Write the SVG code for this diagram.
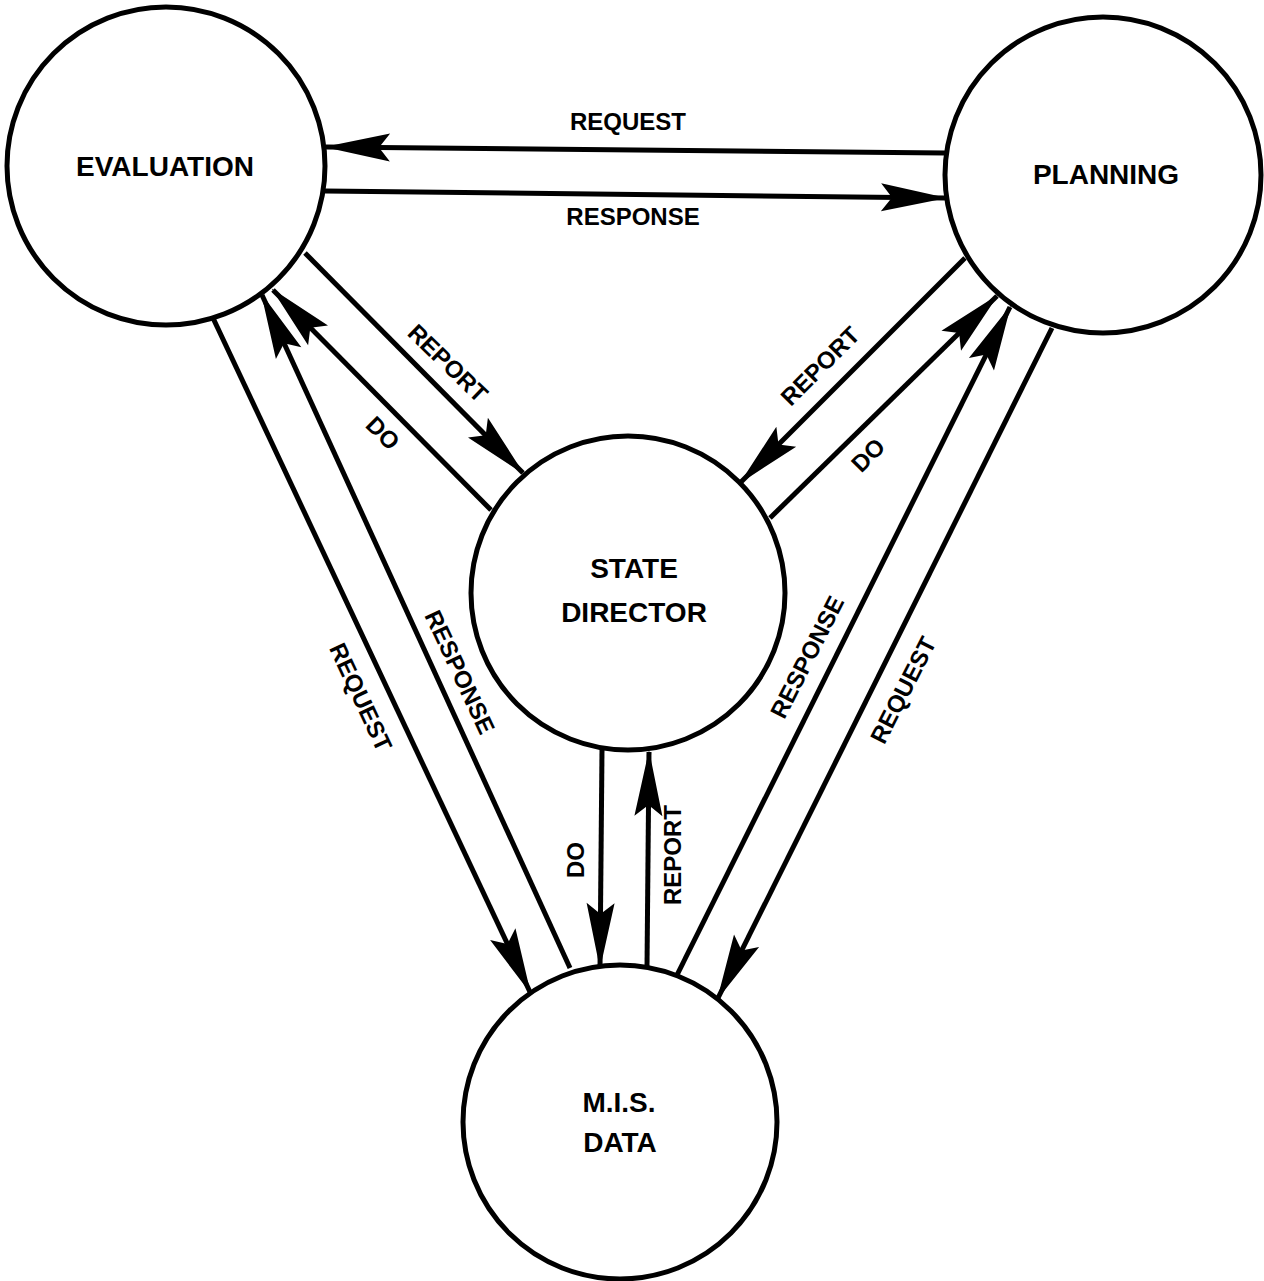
<svg xmlns="http://www.w3.org/2000/svg" width="1264" height="1281" viewBox="0 0 1264 1281">
<style>
.node{fill:#fff;stroke:#000;stroke-width:5}
.nl{font-family:"Liberation Sans",Arial,sans-serif;font-weight:bold;font-size:28px;text-anchor:middle;fill:#000}
.el{font-family:"Liberation Sans",Arial,sans-serif;font-weight:bold;font-size:24px;text-anchor:middle;fill:#000}
.c{stroke:#000;stroke-width:5;fill:none;marker-end:url(#ah)}
</style>
<defs>
<marker id="ah" markerUnits="userSpaceOnUse" viewBox="-68 -16 70 32" refX="0" refY="0" markerWidth="70" markerHeight="32" orient="auto">
<path d="M2,0 L-64,-14 L-53,0 L-64,14 Z" fill="#000"/>
</marker>
</defs>
<rect width="1264" height="1281" fill="#fff"/>
<g id="connectors">
<line class="c" x1="945" y1="153" x2="326" y2="147"/>
<line class="c" x1="325" y1="191" x2="945" y2="198"/>
<line class="c" x1="305" y1="253" x2="523" y2="473"/>
<line class="c" x1="491" y1="510" x2="273" y2="290"/>
<line class="c" x1="570" y1="968" x2="262" y2="295"/>
<line class="c" x1="213" y1="318" x2="530" y2="992"/>
<line class="c" x1="965" y1="258" x2="741" y2="482"/>
<line class="c" x1="770" y1="518" x2="997" y2="296"/>
<line class="c" x1="677" y1="975" x2="1010" y2="307"/>
<line class="c" x1="1052" y1="328" x2="718" y2="998"/>
<line class="c" x1="602" y1="750" x2="600" y2="967"/>
<line class="c" x1="647" y1="967" x2="649" y2="752"/>
<text class="el" x="628" y="130">REQUEST</text>
<text class="el" x="633" y="225">RESPONSE</text>
<text class="el" transform="translate(448,363) rotate(44)" x="0" y="8.5">REPORT</text>
<text class="el" transform="translate(383,433) rotate(45)" x="0" y="8.5">DO</text>
<text class="el" transform="translate(460,672) rotate(65)" x="0" y="8.5">RESPONSE</text>
<text class="el" transform="translate(361,697) rotate(65)" x="0" y="8.5">REQUEST</text>
<text class="el" transform="translate(820,366) rotate(-45)" x="0" y="8.5">REPORT</text>
<text class="el" transform="translate(868,455) rotate(-45)" x="0" y="8.5">DO</text>
<text class="el" transform="translate(807,657) rotate(-63)" x="0" y="8.5">RESPONSE</text>
<text class="el" transform="translate(903,690) rotate(-63)" x="0" y="8.5">REQUEST</text>
<text class="el" transform="translate(575,860) rotate(-90)" x="0" y="8.5">DO</text>
<text class="el" transform="translate(672,855) rotate(-90)" x="0" y="8.5">REPORT</text>
</g>
<g id="evaluation">
<circle class="node" cx="166" cy="166" r="159"/>
<text class="nl" x="165" y="176">EVALUATION</text>
</g>
<g id="planning">
<circle class="node" cx="1103" cy="175" r="158"/>
<text class="nl" x="1106" y="184">PLANNING</text>
</g>
<g id="state-director">
<circle class="node" cx="628" cy="593" r="157"/>
<text class="nl" x="634" y="578">STATE</text>
<text class="nl" x="634" y="622">DIRECTOR</text>
</g>
<g id="mis-data">
<circle class="node" cx="620" cy="1122" r="157"/>
<text class="nl" x="619" y="1112">M.I.S.</text>
<text class="nl" x="620" y="1152">DATA</text>
</g>
</svg>
